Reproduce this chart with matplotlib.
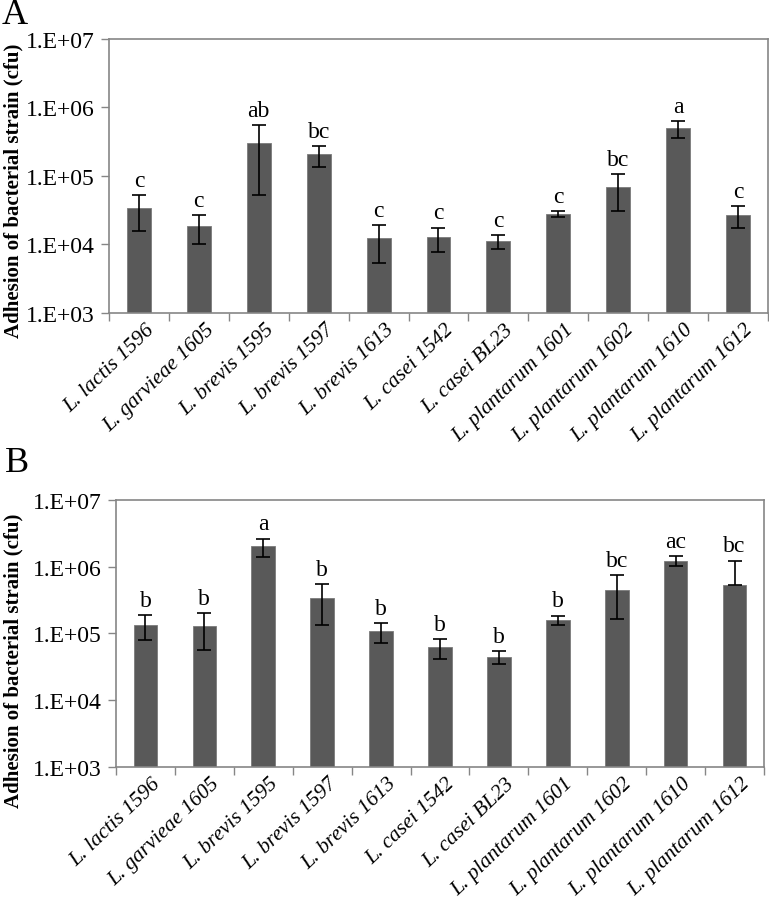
import numpy as np
import matplotlib
matplotlib.use("Agg")
import matplotlib.pyplot as plt

plt.rcParams['font.family'] = ['Liberation Serif', 'DejaVu Serif']

strains = ["L. lactis 1596", "L. garvieae 1605", "L. brevis 1595", "L. brevis 1597",
           "L. brevis 1613", "L. casei 1542", "L. casei BL23", "L. plantarum 1601",
           "L. plantarum 1602", "L. plantarum 1610", "L. plantarum 1612"]

# panel A
mean_a = [3.4e4, 1.86e4, 3.06e5, 2.07e5, 1.23e4, 1.27e4, 1.12e4, 2.8e4, 6.9e4, 4.97e5, 2.69e4]
sd_a = [1.85e4, 8.5e3, 2.54e5, 7.0e4, 7.0e3, 4.9e3, 2.7e3, 2.4e3, 3.8e4, 1.35e5, 9.5e3]
letters_a = ["c", "c", "ab", "bc", "c", "c", "c", "c", "bc", "a", "c"]

# panel B
mean_b = [1.34e5, 1.28e5, 2.02e6, 3.44e5, 1.08e5, 6.2e4, 4.5e4, 1.61e5, 4.53e5, 1.22e6, 5.33e5]
sd_b = [5.4e4, 7.2e4, 6.2e5, 2.1e5, 3.7e4, 2.1e4, 9.5e3, 2.5e4, 2.9e5, 2.1e5, 7.0e5]
letters_b = ["b", "b", "a", "b", "b", "b", "b", "b", "bc", "ac", "bc"]

decades = [1e3, 1e4, 1e5, 1e6, 1e7]
gray = "#868686"


def panel(ax, mean, sd, letters, tag, tag_xy, ylab_xy):
    mean = np.array(mean)
    sd = np.array(sd)
    x = np.arange(len(mean))
    # lower bar clipped when it would go below zero (log axis)
    low = np.where(sd >= mean, 0, sd)
    ax.set_yscale("log")
    ax.bar(x, mean, width=0.4, color="#595959", edgecolor="#7a7a7a", linewidth=0.6, zorder=2)
    ax.errorbar(x, mean, yerr=[low, sd], fmt="none", ecolor="black", elinewidth=1.2,
                capsize=5, capthick=1.2, zorder=3)
    for xi, m, s, t in zip(x, mean, sd, letters):
        ax.annotate(t, (xi, m + s), xytext=(0, 3), textcoords="offset points",
                    ha="center", va="bottom", fontsize=17)
    ax.set_ylim(1e3, 1e7)
    ax.set_xlim(-0.5, len(mean) - 0.5)
    ax.set_yticks(decades)
    ax.set_yticklabels([f"1.E+{int(np.log10(v)):02d}" for v in decades], fontsize=17)
    ax.yaxis.set_minor_locator(matplotlib.ticker.NullLocator())
    ax.set_xticks(np.arange(len(mean) + 1) - 0.5)
    ax.set_xticklabels([])
    ax.set_xticks(x + 0.1, minor=True)
    ax.set_xticklabels(strains, minor=True, rotation=44, ha="right", rotation_mode="anchor",
                       fontsize=15.5, style="italic")
    ax.tick_params(axis="x", which="minor", length=0, pad=5)
    ax.tick_params(axis="both", which="major", length=6, color=gray, width=1)
    ax.tick_params(axis="y", which="major", pad=4)
    for sp in ax.spines.values():
        sp.set_color(gray)
        sp.set_linewidth(1.2)
    ax.set_ylabel("Adhesion of bacterial strain (cfu)", fontsize=15, fontweight="bold")
    ax.yaxis.label.set_va("center")
    ax.yaxis.set_label_coords(*ylab_xy)
    ax.text(tag_xy[0], tag_xy[1], tag, transform=ax.transAxes, fontsize=26,
            ha="left", va="center")


fig = plt.figure(figsize=(7.69, 9.03), dpi=100)
ax1 = fig.add_axes([0.1417, 0.6523, 0.857, 0.3034])
ax2 = fig.add_axes([0.1508, 0.1495, 0.8427, 0.2957])
panel(ax1, mean_a, sd_a, letters_a, "A", (-0.163, 1.09), (-0.145, 0.45))
panel(ax2, mean_b, sd_b, letters_b, "B", (-0.172, 1.14), (-0.158, 0.40))

fig.savefig("out.png", dpi=100)
